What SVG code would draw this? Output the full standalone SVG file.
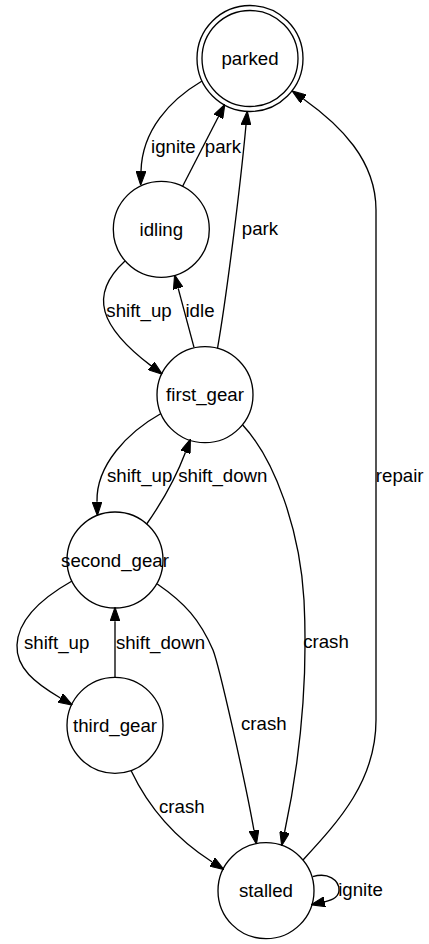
<svg xmlns="http://www.w3.org/2000/svg" width="429" height="944" viewBox="0 0 429 944">
<defs>
<style>
.n{fill:none;stroke:#000;stroke-width:1.33}
.e{fill:none;stroke:#000;stroke-width:1.33;marker-end:url(#ah)}
text{font-family:"Liberation Sans",Arial,sans-serif;font-size:18.67px;text-anchor:middle;fill:#000}
</style>
<marker id="ah" markerUnits="userSpaceOnUse" markerWidth="14" markerHeight="10" viewBox="0 0 13.3 9.33" refX="0" refY="4.67" orient="auto">
<path d="M0,0 L13.3,4.67 L0,9.33 z" fill="#000" stroke="#000" stroke-width="1"/>
</marker>
</defs>
<rect width="429" height="944" fill="#fff"/>
<g id="connectors">
<path class="e" d="M202,81 C170,100 142,130 141,171.2"/>
<path class="e" d="M182.5,186.5 L218.4,116.8"/>
<path class="e" d="M217.5,348.3 C226,300 240,190 246,125"/>
<path class="e" d="M125,261 C88,295 100,327 151.2,365.9"/>
<path class="e" d="M194,347.3 L178.2,288.3"/>
<path class="e" d="M161,413.5 C128,432 96,465 97,501.7"/>
<path class="e" d="M146.7,524 C160,505 175,480 185.5,452.2"/>
<path class="e" d="M72,581 C42,598 18,620 17,645 C16,668 35,683 60.4,698"/>
<path class="e" d="M115,677.3 L115,621.3"/>
<path class="e" d="M157.3,584 C185,603 200,620 213,650 C219,665 245,780 254,830.5"/>
<path class="e" d="M242.7,425 C275,460 300,530 304,600 C308,680 300,760 284.6,832"/>
<path class="e" d="M131,770.5 C145,800 170,835 212.2,862"/>
<path class="e" d="M303,860 C340,820 376,780 376,720 L376,210 C376,160 340,125 303.5,99"/>
<path class="e" d="M312.7,876.7 C328,872 339,880 339,890 C339,897 333,900 324.6,901.8"/>
<text x="173.3" y="152.7">ignite</text>
<text x="223" y="152.7">park</text>
<text x="260" y="235">park</text>
<text x="139" y="317.3">shift_up</text>
<text x="200" y="317.3">idle</text>
<text x="139.7" y="482.3">shift_up</text>
<text x="222.8" y="482.3">shift_down</text>
<text x="56.6" y="649">shift_up</text>
<text x="160.5" y="648.5">shift_down</text>
<text x="263.8" y="730.3">crash</text>
<text x="326" y="648.3">crash</text>
<text x="181.8" y="813.3">crash</text>
<text x="399.7" y="481.7">repair</text>
<text x="360.5" y="896">ignite</text>
</g>
<g id="parked">
<circle class="n" cx="250" cy="58.5" r="48"/>
<circle class="n" cx="250" cy="58.5" r="53"/>
<text x="250" y="65">parked</text>
</g>
<g id="idling">
<circle class="n" cx="161.3" cy="229.3" r="48"/>
<text x="161.3" y="235.5">idling</text>
</g>
<g id="first_gear">
<circle class="n" cx="205" cy="394.7" r="48"/>
<text x="205" y="401">first_gear</text>
</g>
<g id="second_gear">
<circle class="n" cx="115" cy="560" r="48"/>
<text x="115" y="566.5">second_gear</text>
</g>
<g id="third_gear">
<circle class="n" cx="115" cy="725.3" r="48"/>
<text x="115" y="732">third_gear</text>
</g>
<g id="stalled">
<circle class="n" cx="266" cy="890.7" r="48"/>
<text x="266" y="897">stalled</text>
</g>
</svg>
